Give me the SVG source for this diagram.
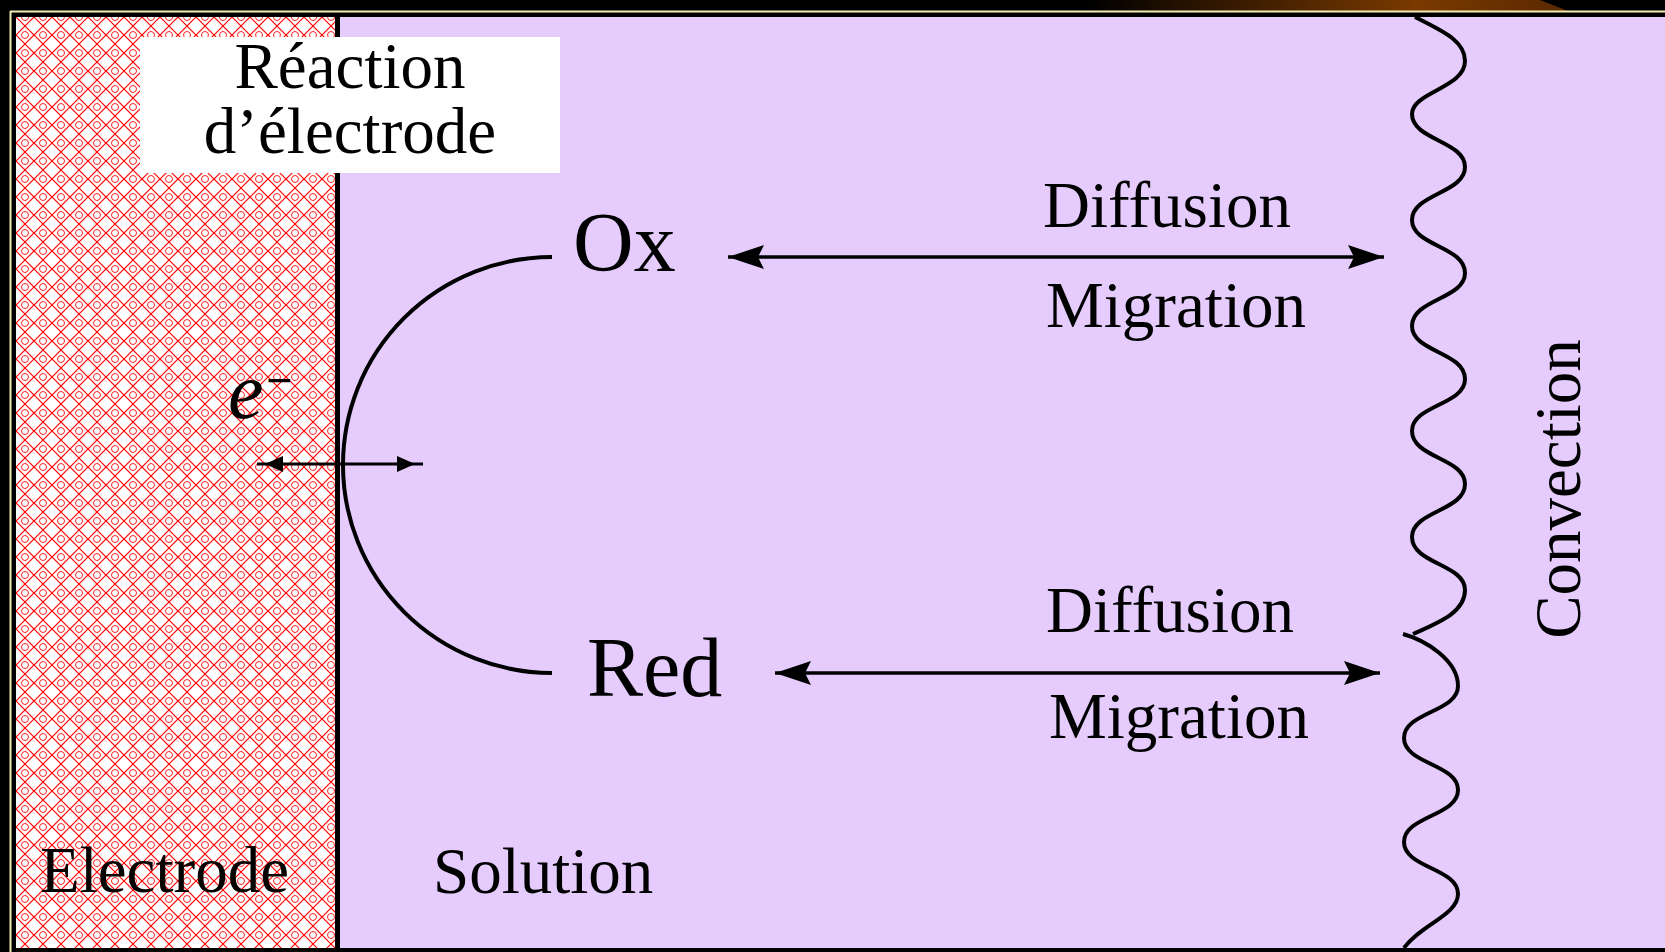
<svg xmlns="http://www.w3.org/2000/svg" width="1665" height="952" viewBox="0 0 1665 952">
<style>
.t{font-family:"Liberation Serif","Times New Roman",serif;fill:#000}
.m{font-size:65px}
.b{font-size:84px}
.ln{stroke:#000;fill:none}
</style>
<defs>
<pattern id="hatch" width="18" height="18" patternUnits="userSpaceOnUse" x="16" y="17">
<rect width="18" height="18" fill="#fff"/>
<path d="M0 0L18 18M18 0L0 18" stroke="#f00" stroke-width="1.2" fill="none"/>
<circle cx="9" cy="0" r="3.5" stroke="#f22" stroke-width="1" fill="none"/>
<circle cx="9" cy="18" r="3.5" stroke="#f22" stroke-width="1" fill="none"/>
</pattern>
<linearGradient id="brown" x1="1085" y1="0" x2="1570" y2="0" gradientUnits="userSpaceOnUse">
<stop offset="0" stop-color="#000"/>
<stop offset="0.68" stop-color="#7a3a00"/>
<stop offset="1" stop-color="#5a2800"/>
</linearGradient>
<marker id="ah" markerUnits="userSpaceOnUse" markerWidth="40" markerHeight="28" refX="36" refY="13" orient="auto-start-reverse">
<path d="M0 1L36 13L0 25L6 13Z" fill="#000"/>
</marker>
</defs>
<rect width="1665" height="952" fill="#000"/>
<polygon points="1085,0 1540,0 1568,11 1085,11" fill="url(#brown)"/>
<path d="M10 11.5H1665M10.5 11V952" stroke="#f3ecb2" stroke-width="2" fill="none"/>
<g id="electrode">
<rect x="16" y="17" width="320" height="931" fill="url(#hatch)"/>
<text class="t m" x="40" y="892">Electrode</text>
</g>
<g id="solution">
<rect x="340" y="17" width="1325" height="931" fill="#e5ccfd"/>
<rect x="335" y="17" width="5" height="931" fill="#000"/>
<text class="t m" x="433" y="893">Solution</text>
</g>
<g id="reaction-label">
<rect x="140" y="37" width="420" height="136" fill="#fff"/>
<text class="t m" x="350" y="88" text-anchor="middle">Réaction</text>
<text class="t m" x="350" y="153" text-anchor="middle">d’électrode</text>
</g>
<g id="electron">
<text class="t" x="228" y="418" font-size="80" font-style="italic">e</text>
<text class="t" x="266" y="396" font-size="46" font-weight="bold">−</text>
</g>
<g id="ox"><text class="t b" x="573" y="271">Ox</text></g>
<g id="red"><text class="t b" x="587" y="696">Red</text></g>
<g id="transport-ox">
<text class="t m" x="1043" y="227">Diffusion</text>
<text class="t m" x="1046" y="327">Migration</text>
</g>
<g id="transport-red">
<text class="t m" x="1046" y="632">Diffusion</text>
<text class="t m" x="1049" y="738">Migration</text>
</g>
<g id="convection">
<path class="ln" stroke-width="4" d="M1415 17C1440 30 1465 40 1465 61C1465 88 1412 92 1412 114C1412 140 1465 141 1465 167C1465 193 1412 194 1412 220C1412 246 1465 246 1465 273C1465 299 1412 299 1412 326C1412 352 1465 352 1465 379C1465 405 1412 405 1412 431C1412 458 1465 458 1465 484C1465 511 1412 511 1412 537C1412 564 1465 564 1465 590C1465 612 1440 622 1413 634"/>
<path class="ln" stroke-width="4" d="M1403 634C1425 640 1458 660 1458 686C1458 712 1404 712 1404 738C1404 764 1458 764 1458 790C1458 816 1404 816 1404 842C1404 868 1458 868 1458 894C1458 915 1420 925 1404 948"/>
<text class="t m" transform="translate(1580 489) rotate(-90)" text-anchor="middle">Convection</text>
</g>
<g id="connectors">
<path class="ln" stroke-width="4" d="M552 257A209 208 0 0 0 552 673"/>
<path class="ln" stroke-width="3" d="M257 464H423"/>
<path d="M265 464L283 456L283 472Z M415 464L397 456L397 472Z" fill="#000"/>
<path class="ln" stroke-width="3.5" d="M728 257H1384" marker-start="url(#ah)" marker-end="url(#ah)"/>
<path class="ln" stroke-width="3.5" d="M775 673H1380" marker-start="url(#ah)" marker-end="url(#ah)"/>
</g>
</svg>
